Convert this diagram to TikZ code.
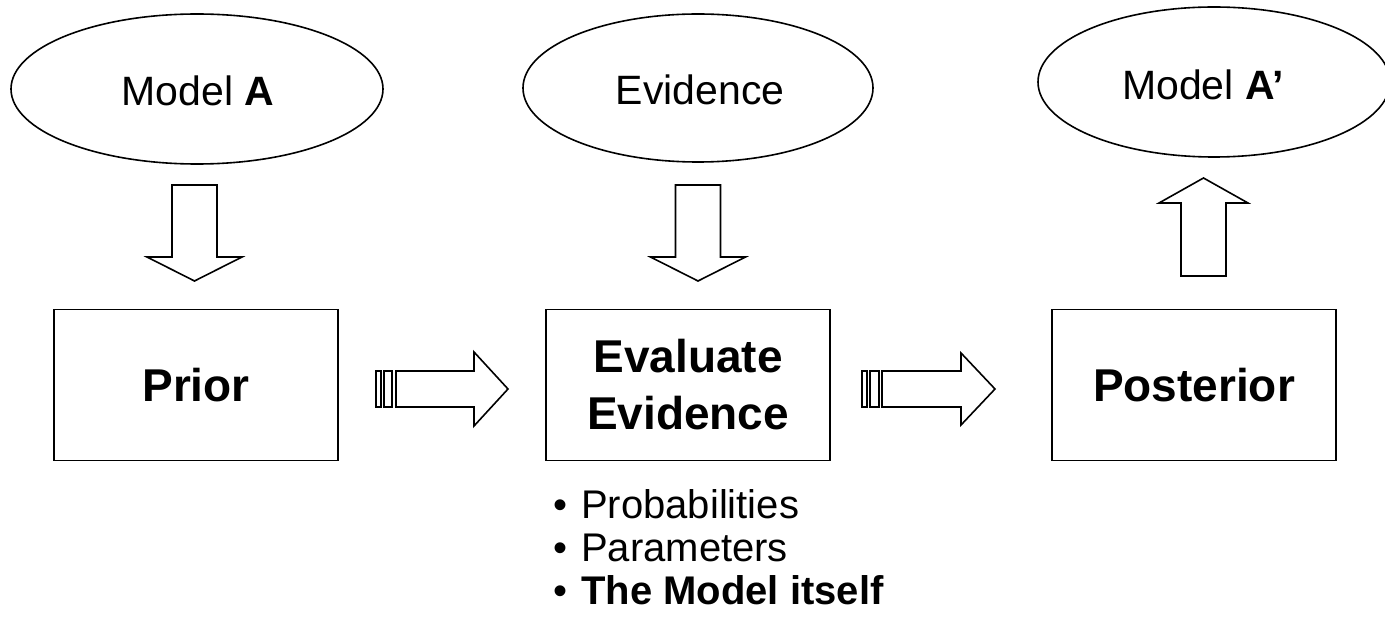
\documentclass[tikz,border=0pt]{standalone}
\usepackage{fontspec}
\setmainfont{Liberation Sans}
\usetikzlibrary{shapes.geometric}
\begin{document}
\begin{tikzpicture}[x=1pt,y=-1pt,
  ln/.style={line width=1.6pt, line join=miter},
  oval/.style={draw, ln, ellipse, inner sep=0pt},
  boxn/.style={draw, ln, minimum width=284pt, minimum height=151pt, inner sep=0pt},
  etext/.style={font=\fontsize{41}{49}\selectfont, anchor=base, inner sep=0pt},
  btext/.style={font=\fontsize{46}{57}\selectfont\bfseries, inner sep=0pt, align=center},
  ltext/.style={font=\fontsize{40}{43}\selectfont, anchor=base west, inner sep=0pt},
  blockarrow/.style={draw, ln, fill=white}]
\useasboundingbox (0,0) rectangle (1385,628);
\begin{scope}
\clip (0,0) rectangle (1385,628);
% ellipses
\node[oval, minimum width=372pt, minimum height=150pt] (ellA) at (197,89) {};
\node[oval, minimum width=350pt, minimum height=148pt] (ellE) at (698,88) {};
\node[oval, minimum width=352pt, minimum height=150pt] (ellB) at (1214,82) {};
\end{scope}
\node[etext] (tA) at (198,106) {Model \textbf{A}};
\node[etext] (tE) at (700,105) {Evidence};
\node[etext] (tB) at (1203,100) {Model \textbf{A’}};
% boxes
\node[boxn] (prior) at (196,385) {};
\node[boxn] (eval) at (688,385) {};
\node[boxn] (post) at (1194,385) {};
\node[btext] at (prior.center) {Prior};
\node[btext] at (eval.center) {Evaluate\\Evidence};
\node[btext] at (post.center) {Posterior};
% down arrow under Model A
\draw[blockarrow] (172,185) -- (217,185) -- (217,257) -- (242,257) -- (194.5,281) -- (147,257) -- (172,257) -- cycle;
% down arrow under Evidence
\draw[blockarrow] (675.5,185) -- (720.5,185) -- (720.5,257) -- (745.5,257) -- (698,281) -- (650.5,257) -- (675.5,257) -- cycle;
% up arrow to Model A'
\draw[blockarrow] (1203.5,178) -- (1248,203) -- (1226,203) -- (1226,276) -- (1181,276) -- (1181,203) -- (1159,203) -- cycle;
% striped arrow 1
\draw[ln] (376,371) rectangle (381,407);
\draw[ln] (384,371) rectangle (392,407);
\draw[blockarrow] (396,371) -- (474,371) -- (474,352) -- (508,389) -- (474,426) -- (474,407) -- (396,407) -- cycle;
% striped arrow 2
\draw[ln] (862,371) rectangle (867,407);
\draw[ln] (870,371) rectangle (879,407);
\draw[blockarrow] (882,371) -- (961,371) -- (961,353) -- (995,389) -- (961,425) -- (961,407) -- (882,407) -- cycle;
% bullet list
\node[ltext] (b1) at (553,518) {•};
\node[ltext] (l1) at (581,518) {Probabilities};
\node[ltext] (b2) at (553,561) {•};
\node[ltext] (l2) at (581,561) {Parameters};
\node[ltext] (b3) at (553,604) {•};
\node[ltext] (l3) at (581,604) {\textbf{The Model itself}};
\end{tikzpicture}
\end{document}
